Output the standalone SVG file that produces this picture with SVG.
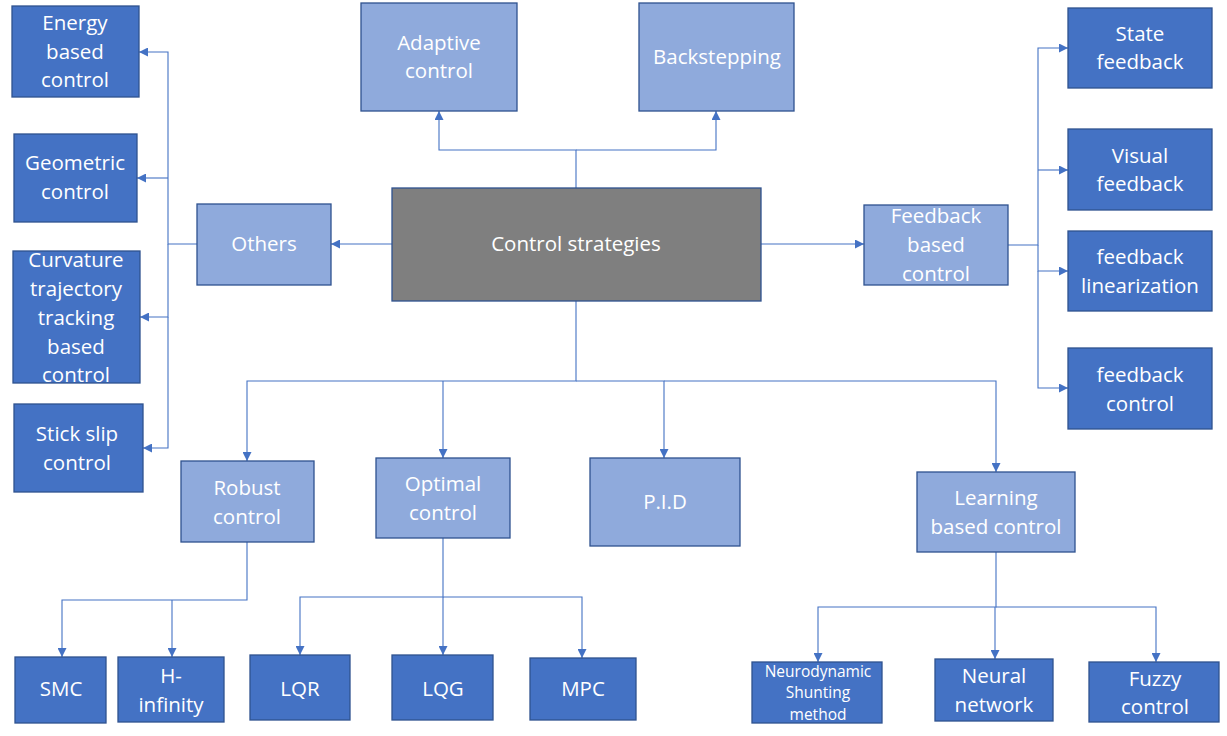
<svg xmlns="http://www.w3.org/2000/svg" width="1227" height="736" viewBox="0 0 1227 736">
<defs>
<style>
.d{fill:#4472C4;stroke:#2F528F;stroke-width:1.3}
.l{fill:#8FAADC;stroke:#2F528F;stroke-width:1.3}
.g{fill:#7F7F7F;stroke:#2F528F;stroke-width:1.3}
text{font-family:"Open Sans","Liberation Sans",sans-serif;font-size:20.5px;fill:#FFFFFF;text-anchor:middle}
.s{font-size:15.5px}
.c{fill:none;stroke:#4472C4;stroke-width:1.1}
</style>
<marker id="a" viewBox="0 0 10 10" refX="10" refY="5" markerWidth="9" markerHeight="9" markerUnits="userSpaceOnUse" orient="auto">
<path d="M0,0 L10,5 L0,10 z" fill="#4472C4"/>
</marker>
</defs>
<rect width="1227" height="736" fill="#FFFFFF"/>
<g id="connectors">
<path class="c" d="M576,188 V150 H439 V111" marker-end="url(#a)"/>
<path class="c" d="M576,150 H716 V111" marker-end="url(#a)"/>
<path class="c" d="M392,244 H331" marker-end="url(#a)"/>
<path class="c" d="M197,244 H168 V52 H139" marker-end="url(#a)"/>
<path class="c" d="M168,178 H137" marker-end="url(#a)"/>
<path class="c" d="M168,244 V317 H140" marker-end="url(#a)"/>
<path class="c" d="M168,317 V448 H143" marker-end="url(#a)"/>
<path class="c" d="M761,244 H864" marker-end="url(#a)"/>
<path class="c" d="M1008,245 H1038 V48 H1068" marker-end="url(#a)"/>
<path class="c" d="M1038,170 H1068" marker-end="url(#a)"/>
<path class="c" d="M1038,245 V271 H1068" marker-end="url(#a)"/>
<path class="c" d="M1038,271 V388 H1068" marker-end="url(#a)"/>
<path class="c" d="M576,301 V381 H247 V461" marker-end="url(#a)"/>
<path class="c" d="M443,381 V458" marker-end="url(#a)"/>
<path class="c" d="M576,381 H664 V458" marker-end="url(#a)"/>
<path class="c" d="M664,381 H996 V472" marker-end="url(#a)"/>
<path class="c" d="M247,542 V600 H62 V657" marker-end="url(#a)"/>
<path class="c" d="M172,600 V657" marker-end="url(#a)"/>
<path class="c" d="M443,538 V597 H300 V655" marker-end="url(#a)"/>
<path class="c" d="M443,597 V655" marker-end="url(#a)"/>
<path class="c" d="M443,597 H582 V658" marker-end="url(#a)"/>
<path class="c" d="M996,552 V607 H818 V662" marker-end="url(#a)"/>
<path class="c" d="M995,607 V659" marker-end="url(#a)"/>
<path class="c" d="M996,607 H1156 V662" marker-end="url(#a)"/>
</g>
<g id="energy"><rect class="d" x="12" y="6" width="127" height="91"/><text x="75" y="30">Energy</text><text x="75" y="59">based</text><text x="75" y="87">control</text></g>
<g id="geometric"><rect class="d" x="14" y="134" width="123" height="88"/><text x="75" y="170">Geometric</text><text x="75" y="199">control</text></g>
<g id="curvature"><rect class="d" x="13" y="251" width="127" height="132"/><text x="76" y="267">Curvature</text><text x="76" y="296">trajectory</text><text x="76" y="325">tracking</text><text x="76" y="354">based</text><text x="76" y="382">control</text></g>
<g id="stickslip"><rect class="d" x="14" y="404" width="129" height="88"/><text x="77" y="441">Stick slip</text><text x="77" y="470">control</text></g>
<g id="others"><rect class="l" x="197" y="204" width="134" height="81"/><text x="264" y="251">Others</text></g>
<g id="adaptive"><rect class="l" x="361" y="3" width="156" height="108"/><text x="439" y="50">Adaptive</text><text x="439" y="78">control</text></g>
<g id="backstepping"><rect class="l" x="639" y="3" width="155" height="108"/><text x="717" y="64">Backstepping</text></g>
<g id="center"><rect class="g" x="392" y="188" width="369" height="113"/><text x="576" y="251">Control strategies</text></g>
<g id="feedbackbased"><rect class="l" x="864" y="205" width="144" height="80"/><text x="936" y="223">Feedback</text><text x="936" y="252">based</text><text x="936" y="281">control</text></g>
<g id="state"><rect class="d" x="1068" y="8" width="144" height="80"/><text x="1140" y="41">State</text><text x="1140" y="69">feedback</text></g>
<g id="visual"><rect class="d" x="1068" y="129" width="144" height="81"/><text x="1140" y="163">Visual</text><text x="1140" y="191">feedback</text></g>
<g id="linearization"><rect class="d" x="1068" y="231" width="144" height="80"/><text x="1140" y="264">feedback</text><text x="1140" y="293">linearization</text></g>
<g id="fbcontrol"><rect class="d" x="1068" y="348" width="144" height="81"/><text x="1140" y="382">feedback</text><text x="1140" y="411">control</text></g>
<g id="robust"><rect class="l" x="181" y="461" width="133" height="81"/><text x="247" y="495">Robust</text><text x="247" y="524">control</text></g>
<g id="optimal"><rect class="l" x="376" y="458" width="134" height="80"/><text x="443" y="491">Optimal</text><text x="443" y="520">control</text></g>
<g id="pid"><rect class="l" x="590" y="458" width="150" height="88"/><text x="665" y="509">P.I.D</text></g>
<g id="learning"><rect class="l" x="917" y="472" width="158" height="80"/><text x="996" y="505">Learning</text><text x="996" y="534">based control</text></g>
<g id="smc"><rect class="d" x="15" y="657" width="91" height="66"/><text x="61" y="696">SMC</text></g>
<g id="hinf"><rect class="d" x="118" y="657" width="106" height="65"/><text x="171" y="683">H-</text><text x="171" y="712">infinity</text></g>
<g id="lqr"><rect class="d" x="250" y="655" width="100" height="65"/><text x="300" y="696">LQR</text></g>
<g id="lqg"><rect class="d" x="392" y="655" width="101" height="65"/><text x="443" y="696">LQG</text></g>
<g id="mpc"><rect class="d" x="530" y="658" width="106" height="62"/><text x="583" y="696">MPC</text></g>
<g id="neuro"><rect class="d" x="752" y="662" width="130" height="61"/><text class="s" x="818" y="677">Neurodynamic</text><text class="s" x="818" y="698">Shunting</text><text class="s" x="818" y="720">method</text></g>
<g id="neural"><rect class="d" x="935" y="659" width="118" height="62"/><text x="994" y="683">Neural</text><text x="994" y="712">network</text></g>
<g id="fuzzy"><rect class="d" x="1089" y="662" width="130" height="60"/><text x="1155" y="686">Fuzzy</text><text x="1155" y="714">control</text></g>
</svg>
